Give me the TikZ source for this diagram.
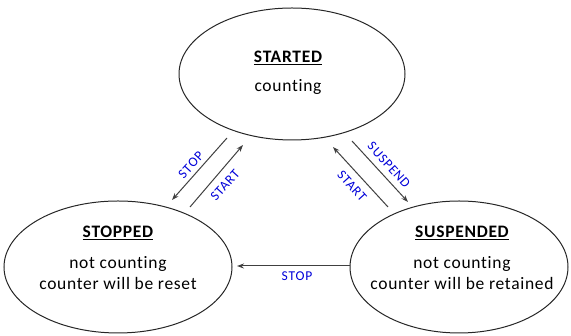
\documentclass[tikz,border=0pt]{standalone}
\usepackage{fontspec}
\setmainfont{Carlito}[RawFeature=-liga,LetterSpace=4]
\newfontfamily\lblfont{Carlito}[LetterSpace=6]
\usetikzlibrary{shapes.geometric,arrows.meta}
\begin{document}
\begin{tikzpicture}[x=1pt,y=1pt,
  state/.style={draw=black!85,line width=1pt,ellipse,inner sep=0pt},
  txt/.style={font=\fontsize{17.5}{21}\selectfont,align=center,inner sep=0pt},
  conn/.style={draw=black!75,line width=1pt,-{Stealth[length=7pt,width=5pt]}},
  lbl/.style={text=blue!85!black,font=\lblfont\fontsize{13.5}{15}\selectfont,inner sep=0pt}]
\useasboundingbox (0,0) rectangle (571,336);
\node[state,minimum width=226pt,minimum height=132pt] (started) at (292,262) {};
\node[state,minimum width=228pt,minimum height=132pt] (stopped) at (118,69) {};
\node[state,minimum width=218pt,minimum height=132pt] (suspended) at (459,69) {};
\node[txt,font=\fontsize{17.5}{21}\selectfont\bfseries] (t1) at (288,278) {\underline{STARTED}};
\node[txt] (t2) at (288,249) {counting};
\node[txt,font=\fontsize{17.5}{21}\selectfont\bfseries] (t3) at (118,103) {\underline{STOPPED}};
\node[txt] (t4) at (118,63) {not counting\\counter will be reset};
\node[txt,font=\fontsize{17.5}{21}\selectfont\bfseries] (t5) at (462,103) {\underline{SUSPENDED}};
\node[txt] (t6) at (462,63) {not counting\\counter will be retained};
\coordinate (a1) at (227,198);
\coordinate (a2) at (172,136);
\coordinate (b1) at (190,129);
\coordinate (b2) at (243,191);
\coordinate (c1) at (388,129);
\coordinate (c2) at (333,189);
\coordinate (d1) at (352,195);
\coordinate (d2) at (408,134);
\coordinate (e1) at (350,70);
\coordinate (e2) at (237,70);
\draw[conn] (a1) -- (a2);
\draw[conn] (b1) -- (b2);
\draw[conn] (c1) -- (c2);
\draw[conn] (d1) -- (d2);
\draw[conn] (e1) -- (e2);
\node[lbl,rotate=48] (l1) at (191,171) {STOP};
\node[lbl,rotate=48] (l2) at (225,151) {START};
\node[lbl,rotate=-48] (l3) at (352,150) {START};
\node[lbl,rotate=-48] (l4) at (389,171) {SUSPEND};
\node[lbl] (l5) at (297,60) {STOP};
\end{tikzpicture}
\end{document}
